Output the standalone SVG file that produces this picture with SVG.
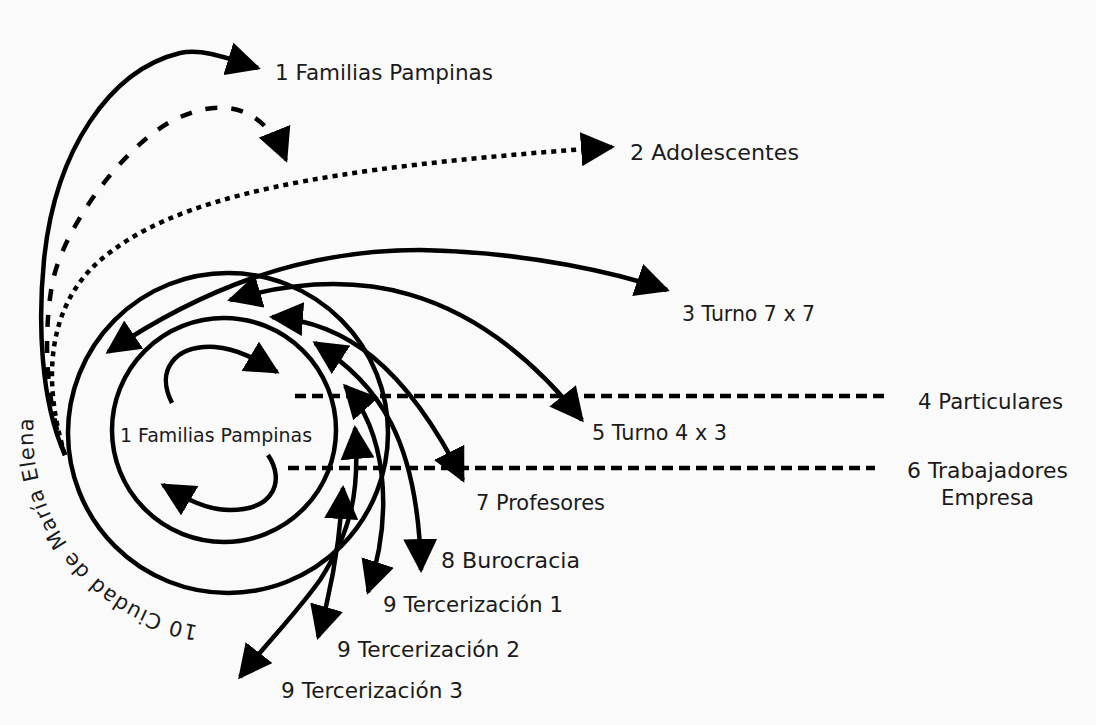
<svg xmlns="http://www.w3.org/2000/svg" width="1096" height="725" viewBox="0 0 1096 725">
<style>
  .lbl { font-family: "DejaVu Sans", "Liberation Sans", sans-serif; font-size: 21px; fill: #1a1a1a; }
  .small { font-size: 19px; }
  .ln { fill: none; stroke: #000; stroke-width: 4.5; }
  .arr { marker-end: url(#ah); }
  .arr2 { marker-start: url(#ahs); marker-end: url(#ah); }
  .dashH { stroke-dasharray: 11 6; }
  .dashC { stroke-dasharray: 12 14; }
  .dot { stroke-dasharray: 5 5; }
</style>
<defs>
  <marker id="ah" viewBox="0 0 34 34" refX="31" refY="17" markerUnits="userSpaceOnUse" markerWidth="34" markerHeight="34" orient="auto">
    <path d="M0,0 L34,17 L0,34 z" fill="#000"/>
  </marker>
  <marker id="ahs" viewBox="0 0 34 34" refX="31" refY="17" markerUnits="userSpaceOnUse" markerWidth="34" markerHeight="34" orient="auto-start-reverse">
    <path d="M0,0 L34,17 L0,34 z" fill="#000"/>
  </marker>
  <path id="cityArc" d="M228,628 A195,195 0 0 1 44.8,366.3"/>
</defs>
<rect x="0" y="0" width="1096" height="725" fill="#fafafa"/>

<g id="node-ciudad">
  <circle class="ln" cx="228" cy="433" r="160"/>
  <text class="lbl" letter-spacing="0.9"><textPath href="#cityArc" startOffset="30">10 Ciudad de María Elena</textPath></text>
</g>
<g id="node-familias-inner">
  <circle class="ln" cx="224" cy="430" r="112"/>
  <text class="lbl small" x="120" y="442" textLength="192" lengthAdjust="spacingAndGlyphs">1 Familias Pampinas</text>
</g>
<g id="node-familias"><text class="lbl" x="275" y="80" textLength="218" lengthAdjust="spacingAndGlyphs">1 Familias Pampinas</text></g>
<g id="node-adolescentes"><text class="lbl" x="630" y="160" textLength="169" lengthAdjust="spacingAndGlyphs">2 Adolescentes</text></g>
<g id="node-turno77"><text class="lbl" x="682" y="321" textLength="133" lengthAdjust="spacingAndGlyphs">3 Turno 7 x 7</text></g>
<g id="node-particulares"><text class="lbl" x="918" y="409" textLength="145" lengthAdjust="spacingAndGlyphs">4 Particulares</text></g>
<g id="node-turno43"><text class="lbl" x="592" y="440" textLength="135" lengthAdjust="spacingAndGlyphs">5 Turno 4 x 3</text></g>
<g id="node-trabajadores">
  <text class="lbl" x="907" y="478" textLength="161" lengthAdjust="spacingAndGlyphs">6 Trabajadores</text>
  <text class="lbl" x="941" y="505" textLength="93" lengthAdjust="spacingAndGlyphs">Empresa</text>
</g>
<g id="node-profesores"><text class="lbl" x="476" y="510" textLength="129" lengthAdjust="spacingAndGlyphs">7 Profesores</text></g>
<g id="node-burocracia"><text class="lbl" x="441" y="568" textLength="139" lengthAdjust="spacingAndGlyphs">8 Burocracia</text></g>
<g id="node-terc1"><text class="lbl" x="383" y="612" textLength="180" lengthAdjust="spacingAndGlyphs">9 Tercerización 1</text></g>
<g id="node-terc2"><text class="lbl" x="337" y="657" textLength="183" lengthAdjust="spacingAndGlyphs">9 Tercerización 2</text></g>
<g id="node-terc3"><text class="lbl" x="281" y="698" textLength="182" lengthAdjust="spacingAndGlyphs">9 Tercerización 3</text></g>

<g id="connectors">
  <path class="ln arr" d="M65,455 C40,400 38,320 44,260 C55,150 110,70 180,53 C205,48 232,60 258,68"/>
  <path class="ln arr dashC" d="M65,455 C44,400 44,330 52,285 C62,230 120,150 170,122 C215,98 262,100 286,160"/>
  <path class="ln arr dot" d="M65,455 C42,380 48,310 95,265 C170,195 320,168 612,147"/>
  <path class="ln arr2" d="M108,352 C200,290 300,250 420,250 C530,252 620,274 667,290"/>
  <path class="ln arr2" d="M230,300 C350,265 470,280 582,420"/>
  <path class="ln arr2" d="M272,317 C345,322 405,365 463,480"/>
  <path class="ln arr2" d="M315,343 C380,385 418,440 421,570"/>
  <path class="ln arr2" d="M345,386 C385,430 395,510 368,592"/>
  <path class="ln arr2" d="M343,488 C340,540 333,585 318,637"/>
  <path class="ln arr2" d="M355,428 C360,490 352,530 320,580 C295,615 265,645 240,677"/>
  <path class="ln arr" d="M172,403 C155,370 175,345 215,347 C240,349 260,362 277,372"/>
  <path class="ln arr" d="M268,455 C285,480 275,510 230,510 C205,510 185,498 163,485"/>
  <path class="ln dashH" d="M295,396 H885"/>
  <path class="ln dashH" d="M288,468 H875"/>
</g>
</svg>
